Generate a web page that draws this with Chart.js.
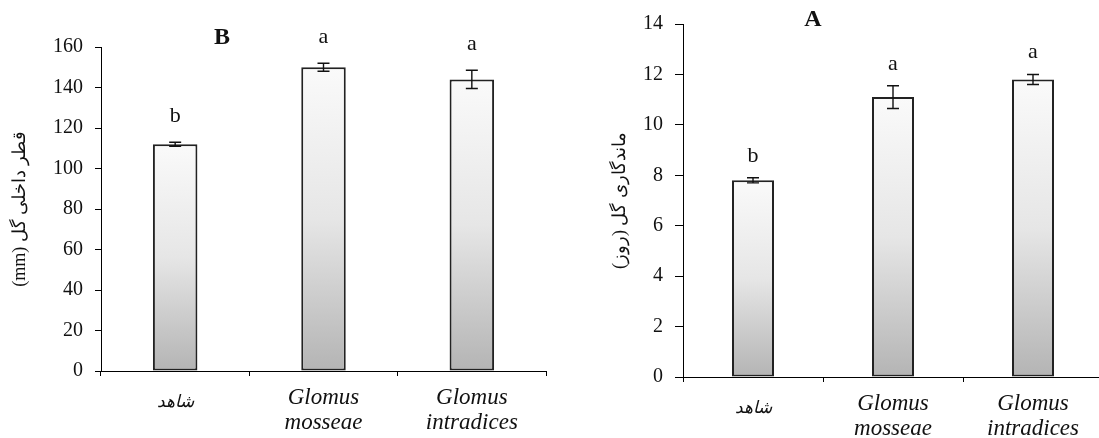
<!DOCTYPE html>
<html>
<head>
<meta charset="utf-8">
<script src="https://cdn.jsdelivr.net/npm/chart.js@4"></script>
<style>
  html, body { margin: 0; padding: 0; background: #fff; overflow: hidden; width: 1099px; height: 438px; }
  canvas { position: absolute; top: 0; }
  #chartB { left: 0; }
  #chartA { left: 600px; }
</style>
</head>
<body>
<canvas id="chartB" width="560" height="438"></canvas>
<canvas id="chartA" width="520" height="438"></canvas>
<script>
// categories shared by both panels
var categories = ['شاهد', ['Glomus', 'mosseae'], ['Glomus', 'intradices']];

// panel B - flower inner diameter (mm)
var diameterValues = [112, 150, 144];
var diameterErrors = [1, 2, 4.5];
var diameterLetters = ['b', 'a', 'a'];
var diameterTicks = [0, 20, 40, 60, 80, 100, 120, 140, 160];

// panel A - vase life (days)
var longevityValues = [7.8, 11.1, 11.8];
var longevityErrors = [0.1, 0.45, 0.2];
var longevityLetters = ['b', 'a', 'a'];
var longevityTicks = [0, 2, 4, 6, 8, 10, 12, 14];

var serif = "'Liberation Serif', 'Times New Roman', serif";

// error bars, significance letters and panel letter
var annotatePlugin = {
    id: 'annotate',
    afterDatasetsDraw: function (chart, args, opts) {
        var ctx = chart.ctx;
        var meta = chart.getDatasetMeta(0);
        var y = chart.scales.y;
        ctx.save();
        ctx.strokeStyle = '#111';
        ctx.lineWidth = 1.4;
        opts.values.forEach(function (v, i) {
            var x = meta.data[i].x;
            var top = y.getPixelForValue(v + opts.errors[i]);
            var bot = y.getPixelForValue(v - opts.errors[i]);
            ctx.beginPath();
            ctx.moveTo(x, top); ctx.lineTo(x, bot);
            ctx.moveTo(x - 6, top); ctx.lineTo(x + 6, top);
            ctx.moveTo(x - 6, bot); ctx.lineTo(x + 6, bot);
            ctx.stroke();

            ctx.fillStyle = '#111';
            ctx.font = '22px ' + serif;
            ctx.textAlign = 'center';
            ctx.textBaseline = 'middle';
            ctx.fillText(opts.letters[i], x, top - opts.letterGap);
        });
        ctx.font = 'bold 24px ' + serif;
        ctx.fillText(opts.panel, chart.chartArea.left + opts.panelX, chart.chartArea.top + opts.panelY);
        ctx.restore();
    }
};

function barFill(c) {
    var chart = c.chart;
    var area = chart.chartArea;
    if (!area) return '#ddd';
    var top = chart.scales.y.getPixelForValue(c.raw);
    var g = chart.ctx.createLinearGradient(0, top, 0, area.bottom);
    g.addColorStop(0, '#fafafa');
    g.addColorStop(0.5, '#e6e6e6');
    g.addColorStop(1, '#b4b4b4');
    return g;
}

function makeChart(id, cfg) {
    var ctx = document.getElementById(id).getContext('2d');
    return new Chart(ctx, {
        type: 'bar',
        data: {
            labels: categories,
            datasets: [{
                data: cfg.values,
                backgroundColor: barFill,
                borderColor: '#222',
                borderWidth: 2,
                borderSkipped: false,
                barPercentage: 0.3,
                categoryPercentage: 1
            }]
        },
        options: {
            responsive: false,
            animation: false,
            layout: { padding: { top: cfg.top, right: cfg.right, left: 0, bottom: 0 } },
            scales: {
                x: {
                    afterFit: function (s) { s.height = 438 - cfg.bottom; },
                    border: { color: '#000', width: 1 },
                    grid: { drawOnChartArea: false, color: '#000', tickLength: 5, offset: true },
                    ticks: {
                        color: '#111',
                        padding: 10,
                        maxRotation: 0,
                        font: function (c) {
                            return c.index === 0
                                ? { family: serif, size: 17, style: 'italic', lineHeight: 1.9 }
                                : { family: serif, size: 23, style: 'italic', lineHeight: 1.08 };
                        }
                    }
                },
                y: {
                    min: 0,
                    max: cfg.ticks[cfg.ticks.length - 1],
                    afterFit: function (s) { s.width = cfg.axisWidth; },
                    afterBuildTicks: function (s) {
                        s.ticks = cfg.ticks.map(function (t) { return { value: t }; });
                    },
                    border: { color: '#000', width: 1 },
                    grid: { drawOnChartArea: false, color: '#000', tickLength: cfg.tickLen },
                    ticks: { color: '#111', padding: 12, font: { family: serif, size: 20 } },
                    title: {
                        display: true,
                        text: cfg.title,
                        color: '#111',
                        padding: { top: cfg.titlePad, bottom: 0 },
                        font: { family: serif, size: 18 }
                    }
                }
            },
            plugins: {
                legend: { display: false },
                tooltip: { enabled: false },
                annotate: {
                    values: cfg.values,
                    errors: cfg.errors,
                    letters: cfg.letters,
                    letterGap: cfg.letterGap,
                    panel: cfg.panel,
                    panelX: cfg.panelX,
                    panelY: cfg.panelY
                }
            }
        },
        plugins: [annotatePlugin]
    });
}

var chartB = makeChart('chartB', {
    values: diameterValues,
    errors: diameterErrors,
    letters: diameterLetters,
    ticks: diameterTicks,
    title: '(mm) قطر داخلی گل',
    panel: 'B',
    panelX: 121,
    panelY: -9,
    letterGap: 26,
    top: 47,
    bottom: 371,
    right: 14,
    axisWidth: 101,
    tickLen: 6,
    titlePad: 9
});

var chartA = makeChart('chartA', {
    values: longevityValues,
    errors: longevityErrors,
    letters: longevityLetters,
    ticks: longevityTicks,
    title: 'ماندگاری گل (روز)\u200F',
    panel: 'A',
    panelX: 130,
    panelY: -4,
    letterGap: 22,
    top: 24,
    bottom: 377,
    right: 17,
    axisWidth: 83,
    tickLen: 8,
    titlePad: 9
});
</script>
</body>
</html>
